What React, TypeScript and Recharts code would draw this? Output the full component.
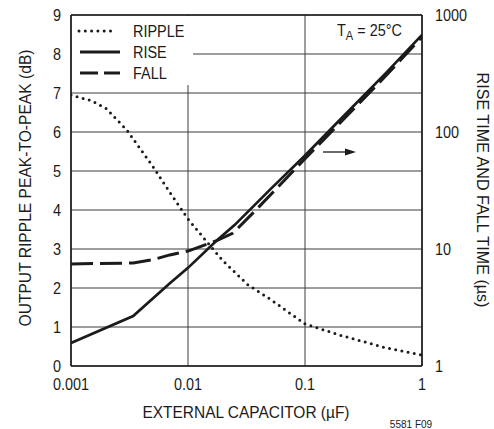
import React from 'react';
import { LineChart, Line, XAxis, YAxis, CartesianGrid, Legend, ReferenceLine } from 'recharts';

const FONT = '"Liberation Sans", Arial, sans-serif';
const INK = '#1b1b1b';
const NARROW = 0.85;

// axes
const capTicks = [0.001, 0.01, 0.1, 1];
const capTickLabels = ['0.001', '0.01', '0.1', '1'];
const rippleTicks = [0, 1, 2, 3, 4, 5, 6, 7, 8, 9];
const timeTicks = [1, 10, 100, 1000];

// RIPPLE (dB, left axis)
const rippleCap = [0.001, 0.0015, 0.002, 0.003, 0.005, 0.007, 0.01, 0.015, 0.02, 0.0326, 0.05, 0.1, 0.2, 0.5, 1];
const rippleDb = [6.95, 6.8, 6.6, 6.05, 5.12, 4.45, 3.77, 3.13, 2.69, 2.08, 1.72, 1.08, 0.79, 0.46, 0.28];

// RISE (µs, right axis)
const riseCap = [0.001, 0.0034, 0.007, 0.01, 0.0176, 0.025, 0.05, 0.1, 0.2, 0.5, 1];
const riseUs = [1.57, 2.67, 5.1, 6.9, 11.8, 16, 32, 63, 128, 325, 676];

// FALL (µs, right axis)
const fallCap = [0.001, 0.0034, 0.005, 0.007, 0.01, 0.0176, 0.0243, 0.038, 0.1, 0.2, 0.5, 1];
const fallUs = [7.45, 7.6, 8.1, 8.9, 9.6, 11.8, 13.7, 21.5, 59, 120, 308, 650];

const legendNames = ['RIPPLE', 'RISE', 'FALL'];
const legendDash = ['0 6.3', undefined, '18 6'];

const toPoints = (xs: number[], ys: number[]) => xs.map((x, i) => ({ x, y: ys[i] }));
const rippleData = toPoints(rippleCap, rippleDb);
const riseData = toPoints(riseCap, riseUs);
const fallData = toPoints(fallCap, fallUs);

const makeTick = (anchor: 'start' | 'middle' | 'end', dy: string, fmt?: (v: number) => string) =>
  (props: any) => {
    const { x, y, payload } = props;
    const v = payload.value as number;
    return (
      <g transform={`translate(${x},${y}) scale(${NARROW},1)`}>
        <text x={0} y={0} dy={dy} textAnchor={anchor} fontSize={17} fontFamily={FONT} fill={INK}>
          {fmt ? fmt(v) : String(v)}
        </text>
      </g>
    );
  };

const capTick = makeTick('middle', '0.71em', (v) => capTickLabels[capTicks.indexOf(v)] ?? String(v));
const leftTick = makeTick('end', '0.36em');
const rightTick = makeTick('start', '0.36em');

const LegendBox = () => (
  <svg width={121} height={69} style={{ display: 'block', background: '#fff' }}>
    {legendNames.map((name, i) => {
      const y = 15 + i * 21;
      return (
        <g key={name}>
          <line
            x1={i === 0 ? 7 : 8}
            x2={i === 0 ? 44 : 48}
            y1={y}
            y2={y}
            stroke={INK}
            strokeWidth={i === 0 ? 3 : 2.8}
            strokeDasharray={legendDash[i]}
            strokeLinecap={i === 0 ? 'round' : 'butt'}
          />
          <g transform={`translate(61,${y + 6}) scale(${NARROW},1)`}>
            <text x={0} y={0} fontSize={17} fontFamily={FONT} fill={INK}>
              {name}
            </text>
          </g>
        </g>
      );
    })}
  </svg>
);

const App = () => (
  <div style={{ position: 'absolute', left: 0, top: 0, width: 494, height: 429, background: '#fff' }}>
    <LineChart width={494} height={429} margin={{ top: 15, right: 0, bottom: 33, left: 0 }}>
      <CartesianGrid yAxisId="left" stroke="#3c3c3c" strokeWidth={1} />
      <XAxis
        dataKey="x"
        type="number"
        scale="log"
        domain={[0.001, 1]}
        ticks={capTicks}
        allowDataOverflow
        height={30}
        tickLine={false}
        tickSize={0}
        tickMargin={12}
        axisLine={{ stroke: INK, strokeWidth: 1.6 }}
        tick={capTick}
      />
      <YAxis
        yAxisId="left"
        type="number"
        domain={[0, 9]}
        ticks={rippleTicks}
        width={71}
        tickLine={false}
        tickSize={0}
        tickMargin={10}
        axisLine={{ stroke: INK, strokeWidth: 1.6 }}
        tick={leftTick}
        allowDataOverflow
      />
      <YAxis
        yAxisId="right"
        orientation="right"
        type="number"
        scale="log"
        domain={[1, 1000]}
        ticks={timeTicks}
        width={72}
        tickLine={false}
        tickSize={0}
        tickMargin={13}
        axisLine={{ stroke: INK, strokeWidth: 1.6 }}
        tick={rightTick}
        allowDataOverflow
      />
      <ReferenceLine yAxisId="left" y={9} stroke={INK} strokeWidth={1.6} />
      <Legend
        layout="vertical"
        align="center"
        verticalAlign="middle"
        content={() => <LegendBox />}
        wrapperStyle={{ left: 72, top: 16, width: 121, height: 69 }}
      />
      <Line
        data={rippleData}
        dataKey="y"
        yAxisId="left"
        name="RIPPLE"
        stroke={INK}
        strokeWidth={3}
        strokeDasharray="0 6.3"
        strokeLinecap="round"
        dot={false}
        isAnimationActive={false}
      />
      <Line
        data={riseData}
        dataKey="y"
        yAxisId="right"
        name="RISE"
        stroke={INK}
        strokeWidth={2.7}
        dot={false}
        isAnimationActive={false}
      />
      <Line
        data={fallData}
        dataKey="y"
        yAxisId="right"
        name="FALL"
        stroke={INK}
        strokeWidth={3}
        strokeDasharray="22 7"
        dot={false}
        isAnimationActive={false}
      />
    </LineChart>
    <svg
      width={494}
      height={429}
      style={{ position: 'absolute', left: 0, top: 0, pointerEvents: 'none' }}
      fontFamily={FONT}
      fill={INK}
    >
      <g transform={`translate(337,36) scale(${NARROW},1)`}>
        <text x={0} y={0} fontSize={17}>
          T<tspan fontSize={13} dy={4}>A</tspan>
          <tspan dy={-4}> = 25°C</tspan>
        </text>
      </g>
      <line x1={323} x2={346} y1={152} y2={152} stroke={INK} strokeWidth={1.3} />
      <path d="M345 148.5 L356 152 L345 155.5 Z" fill={INK} />
      <text
        x={31}
        y={188}
        fontSize={17}
        textAnchor="middle"
        transform="rotate(-90 31 188)"
        textLength={277}
        lengthAdjust="spacingAndGlyphs"
      >
        OUTPUT RIPPLE PEAK-TO-PEAK (dB)
      </text>
      <text
        x={477}
        y={190}
        fontSize={17}
        textAnchor="middle"
        transform="rotate(90 477 190)"
        textLength={235}
        lengthAdjust="spacingAndGlyphs"
      >
        RISE TIME AND FALL TIME (µs)
      </text>
      <text x={246} y={418} fontSize={17} textAnchor="middle" textLength={207} lengthAdjust="spacingAndGlyphs">
        EXTERNAL CAPACITOR (µF)
      </text>
      <text x={411} y={428} fontSize={10} textAnchor="middle">
        5581 F09
      </text>
    </svg>
  </div>
);

export default App;
